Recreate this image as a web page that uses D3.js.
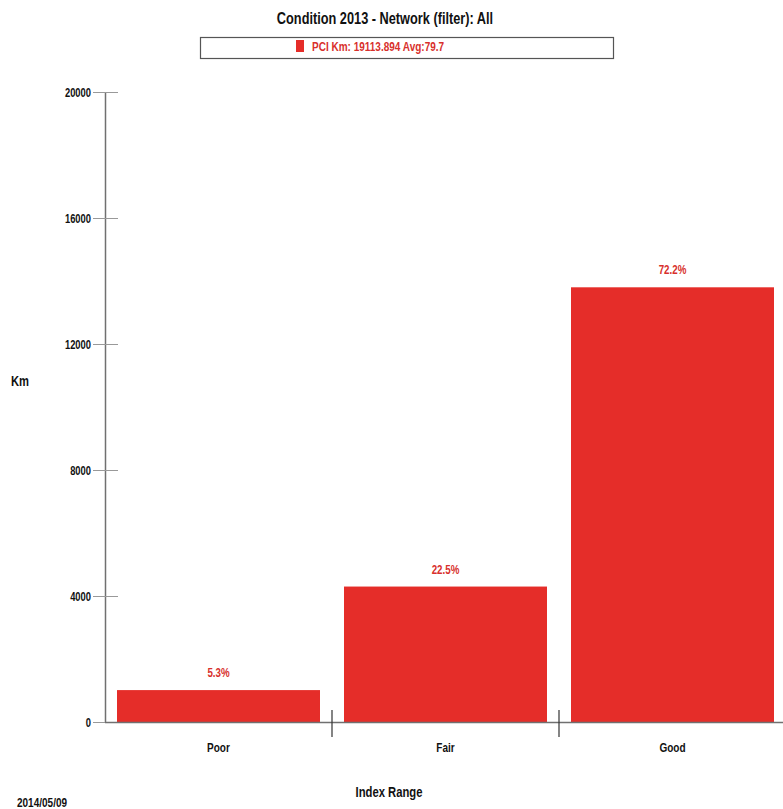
<!DOCTYPE html>
<html><head><meta charset="utf-8">
<script src="https://cdn.jsdelivr.net/npm/d3@7"></script>
<style>
body{margin:0;background:#fff;}
text{font-family:"Liberation Sans Narrow","Arial Narrow","Liberation Sans",sans-serif;font-weight:bold;}
</style></head><body>
<svg id="c" width="783" height="809"></svg>
<script>
const categories = ["Poor", "Fair", "Good"];
const values = [1013, 4300, 13800];
const percentLabels = ["5.3%", "22.5%", "72.2%"];
const yTicks = [0, 4000, 8000, 12000, 16000, 20000];
const titleText = "Condition 2013 - Network (filter): All";
const legendText = "PCI Km: 19113.894 Avg:79.7";
const xTitle = "Index Range";
const yTitle = "Km";
const dateText = "2014/05/09";

const svg = d3.select("#c");
const barColor = "#e52d29";
const axisColor = "#707070";

const band = d3.scaleBand().domain(categories).range([105, 786]);
const y = d3.scaleLinear().domain([0, 20000]).range([722, 92]);

function narrow(sel, f) {
  sel.each(function() {
    const w = this.getComputedTextLength();
    d3.select(this).attr("textLength", w * f).attr("lengthAdjust", "spacingAndGlyphs");
  });
}

svg.append("text").attr("x", 385).attr("y", 24).attr("text-anchor", "middle")
  .attr("font-size", 17).attr("fill", "#111").text(titleText).call(narrow, 0.75);

svg.append("rect").attr("x", 200.5).attr("y", 37.5).attr("width", 413).attr("height", 21)
  .attr("fill", "#fff").attr("stroke", "#555").attr("stroke-width", 1.2);
svg.append("rect").attr("x", 296).attr("y", 40).attr("width", 8).attr("height", 12).attr("fill", barColor);
svg.append("text").attr("x", 312).attr("y", 51).attr("font-size", 12.5).attr("fill", "#d8302c")
  .text(legendText).call(narrow, 0.8);

// bars
svg.selectAll(".bar").data(values).enter().append("rect")
  .attr("x", (d, i) => band(categories[i]) + 12)
  .attr("width", band.bandwidth() - 24)
  .attr("y", d => y(d))
  .attr("height", d => y(0) - y(d))
  .attr("fill", barColor);

svg.selectAll(".pl").data(values).enter().append("text")
  .attr("x", (d, i) => band(categories[i]) + band.bandwidth() / 2)
  .attr("y", d => y(d) - 13)
  .attr("text-anchor", "middle").attr("font-size", 12.5).attr("fill", "#d8302c")
  .text((d, i) => percentLabels[i]).call(narrow, 0.78);

// y axis
svg.append("line").attr("x1", 105.5).attr("x2", 105.5).attr("y1", y(20000)).attr("y2", y(0) + 1)
  .attr("stroke", axisColor).attr("stroke-width", 1.5);
yTicks.forEach(t => {
  svg.append("line").attr("x1", 93).attr("x2", 118).attr("y1", y(t) + 0.5).attr("y2", y(t) + 0.5)
    .attr("stroke", "#999").attr("stroke-width", 1);
  svg.append("text").attr("x", 91).attr("y", y(t) + 4.5).attr("text-anchor", "end")
    .attr("font-size", 12).attr("fill", "#111").text(t).call(narrow, 0.78);
});

// x axis
svg.append("line").attr("x1", 105).attr("x2", 783).attr("y1", 722.5).attr("y2", 722.5)
  .attr("stroke", axisColor).attr("stroke-width", 1.5);
categories.slice(1).forEach(c => {
  svg.append("line").attr("x1", band(c)).attr("x2", band(c)).attr("y1", 710).attr("y2", 737)
    .attr("stroke", "#333").attr("stroke-width", 1.2);
});
categories.forEach(c => {
  svg.append("text").attr("x", band(c) + band.bandwidth() / 2).attr("y", 752)
    .attr("text-anchor", "middle").attr("font-size", 12.5).attr("fill", "#111").text(c).call(narrow, 0.8);
});

svg.append("text").attr("x", 389).attr("y", 797).attr("text-anchor", "middle")
  .attr("font-size", 15).attr("fill", "#111").text(xTitle).call(narrow, 0.75);
svg.append("text").attr("x", 11).attr("y", 386)
  .attr("font-size", 14).attr("fill", "#111").text(yTitle).call(narrow, 0.8);
svg.append("text").attr("x", 17).attr("y", 807)
  .attr("font-size", 12.5).attr("fill", "#111").text(dateText).call(narrow, 0.8);
</script>
</body></html>
